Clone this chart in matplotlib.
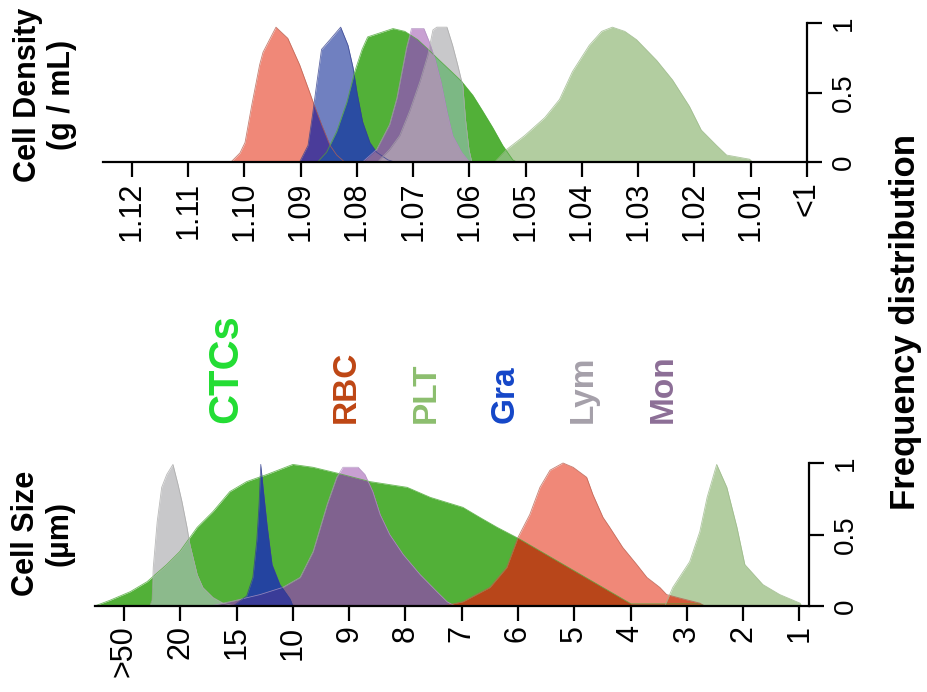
import numpy as np
import matplotlib
matplotlib.use('Agg')
import matplotlib.pyplot as plt

plt.rcParams['font.family'] = ['Liberation Sans', 'DejaVu Sans']

W, H = 928, 692

# ---------------- data ----------------
density_ticks = ['1.12', '1.11', '1.10', '1.09', '1.08', '1.07', '1.06',
                 '1.05', '1.04', '1.03', '1.02', '1.01', '<1']
size_ticks = ['>50', '20', '15', '10', '9', '8', '7', '6', '5', '4', '3', '2', '1']
freq_ticks = [0, 0.5, 1]
freq_labels = ['0', '0.5', '1']

cell_types = ['CTCs', 'RBC', 'PLT', 'Gra', 'Lym', 'Mon']

# Cell density panel (x in category-index units, y = normalised frequency)
dens_rbc_x = [1.76, 1.92, 2.01, 2.13, 2.27, 2.33, 2.56, 2.77, 2.98, 3.16, 3.23, 3.37, 3.52, 3.64, 3.78]
dens_rbc_y = [0, 0.065, 0.14, 0.41, 0.70, 0.79, 0.97, 0.89, 0.70, 0.50, 0.42, 0.27, 0.12, 0.05, 0]

dens_gra_x = [2.98, 3.13, 3.21, 3.29, 3.37, 3.52, 3.71, 3.84, 3.93, 4.00, 4.10, 4.23, 4.35, 4.55, 4.67]
dens_gra_y = [0, 0.12, 0.34, 0.58, 0.81, 0.88, 0.97, 0.84, 0.68, 0.50, 0.29, 0.14, 0.07, 0.015, 0]

dens_ctc_x = [3.30, 3.46, 3.64, 3.82, 3.96, 4.09, 4.19, 4.64, 4.85, 5.08, 5.24, 5.47, 5.68, 5.86,
              6.06, 6.23, 6.41, 6.59, 6.77, 6.84]
dens_ctc_y = [0, 0.07, 0.22, 0.43, 0.65, 0.81, 0.90, 0.96, 0.94, 0.88, 0.82, 0.73, 0.65, 0.58,
              0.48, 0.37, 0.25, 0.12, 0.015, 0]

dens_mon_x = [4.10, 4.35, 4.58, 4.71, 4.80, 4.88, 4.97, 5.19, 5.29, 5.38, 5.49, 5.60, 5.70, 5.86, 6.00]
dens_mon_y = [0, 0.09, 0.27, 0.46, 0.65, 0.82, 0.96, 0.96, 0.86, 0.75, 0.58, 0.36, 0.19, 0.07, 0]

dens_lym_x = [4.37, 4.58, 4.76, 4.94, 5.12, 5.26, 5.35, 5.42, 5.60, 5.70, 5.79, 5.88, 5.93, 5.99, 6.04]
dens_lym_y = [0, 0.09, 0.19, 0.37, 0.58, 0.77, 0.95, 0.97, 0.97, 0.84, 0.70, 0.55, 0.30, 0.09, 0]

dens_plt_x = [6.45, 6.66, 6.98, 7.34, 7.60, 7.83, 8.13, 8.35, 8.54, 8.76, 8.97, 9.33, 9.61, 9.91,
              10.12, 10.39, 10.57, 10.98, 11.03]
dens_plt_y = [0, 0.09, 0.19, 0.32, 0.45, 0.65, 0.84, 0.94, 0.97, 0.94, 0.88, 0.73, 0.59, 0.40,
              0.23, 0.12, 0.05, 0.02, 0]

# Cell size panel
size_lym_x = [0.46, 0.50, 0.52, 0.59, 0.67, 0.76, 0.87, 0.96, 1.03, 1.12, 1.17, 1.30, 1.40, 1.58, 1.76, 1.97]
size_lym_y = [0, 0.04, 0.27, 0.59, 0.83, 0.92, 0.99, 0.85, 0.73, 0.55, 0.43, 0.22, 0.13, 0.06, 0.02, 0]

size_ctc_x = [-0.52, -0.25, 0.11, 0.41, 0.76, 0.99, 1.30, 1.58, 1.88, 2.18, 2.54, 3.00, 3.36, 3.78,
              4.37, 5.03, 5.44, 6.02, 6.32, 6.63, 7.02, 9.01, 10.23, 10.32]
size_ctc_y = [0, 0.04, 0.10, 0.17, 0.29, 0.38, 0.55, 0.66, 0.80, 0.87, 0.92, 0.99, 0.97, 0.93,
              0.87, 0.83, 0.76, 0.69, 0.62, 0.55, 0.47, 0.015, 0.015, 0]

size_gra_x = [1.94, 2.18, 2.29, 2.36, 2.40, 2.43, 2.47, 2.54, 2.63, 2.77, 2.95, 3.00]
size_gra_y = [0, 0.07, 0.20, 0.46, 0.71, 0.99, 0.83, 0.57, 0.29, 0.15, 0.05, 0]

size_mon_x = [1.53, 1.94, 2.42, 2.82, 3.13, 3.36, 3.61, 3.78, 3.89, 4.16, 4.28, 4.42, 4.55, 4.72,
              4.96, 5.26, 5.56, 5.74, 5.88]
size_mon_y = [0, 0.035, 0.08, 0.13, 0.20, 0.38, 0.71, 0.90, 0.97, 0.97, 0.92, 0.80, 0.64, 0.50,
              0.36, 0.22, 0.10, 0.03, 0]

size_rbc_x = [5.67, 6.02, 6.50, 6.80, 7.00, 7.21, 7.39, 7.57, 7.80, 7.98, 8.22, 8.33, 8.51, 8.63,
              8.86, 9.11, 9.29, 9.52, 9.64, 9.88, 10.23, 10.32]
size_rbc_y = [0, 0.03, 0.13, 0.27, 0.48, 0.64, 0.83, 0.95, 1.0, 0.97, 0.90, 0.78, 0.62, 0.55,
              0.41, 0.29, 0.20, 0.13, 0.08, 0.055, 0.02, 0]

size_plt_x = [9.61, 9.64, 9.75, 10.05, 10.23, 10.36, 10.53, 10.71, 10.89, 11.03, 11.35, 11.65, 12.01, 12.04]
size_plt_y = [0, 0.03, 0.13, 0.31, 0.52, 0.76, 0.99, 0.83, 0.55, 0.29, 0.15, 0.08, 0.02, 0]

# ---------------- styles ----------------
alone = {'CTCs': '#52B038', 'RBC': '#F08878', 'PLT': '#B2CDA0',
         'Gra': '#7080C0', 'Lym': '#C8C8CA', 'Mon': '#C8A0D2'}
edge = {'CTCs': '#4AA834', 'RBC': '#B86050', 'PLT': '#9AB888',
        'Gra': '#34408E', 'Lym': '#A8A8A8', 'Mon': '#B090C0'}
label_colors = {'CTCs': '#22DD33', 'RBC': '#BE4614', 'PLT': '#8CBE6E',
                'Gra': '#1446C8', 'Lym': '#A5A0AA', 'Mon': '#8C6E96'}

fig = plt.figure(figsize=(W / 100, H / 100), dpi=100)


def px_axes(x0, x1, ytop, ybot):
    return fig.add_axes([x0 / W, 1 - ybot / H, (x1 - x0) / W, (ybot - ytop) / H])


def draw_panel(ax, series, overlaps, xmin, xmax):
    grid = np.linspace(xmin, xmax, 4000)
    iy = {k: np.interp(grid, xs, ys, left=0, right=0) for k, (xs, ys) in series.items()}
    for k in series:
        ax.fill_between(grid, 0, iy[k], color=alone[k], lw=0, clip_on=False, zorder=1)
    for a, b, c in overlaps:
        ax.fill_between(grid, 0, np.minimum(iy[a], iy[b]), color=c, lw=0, clip_on=False, zorder=1.2)
    for k, (xs, ys) in series.items():
        ax.plot(xs, ys, color=edge[k], lw=0.6, clip_on=False, zorder=1.5, alpha=0.8)


def style_axes(ax, xlim, ticklabels):
    ax.set_xlim(*xlim)
    ax.set_ylim(0, 1)
    for s in ['top', 'left']:
        ax.spines[s].set_visible(False)
    for s in ['bottom', 'right']:
        ax.spines[s].set_linewidth(1.6)
    ax.patch.set_alpha(0)
    ax.set_xticks(range(len(ticklabels)))
    ax.set_xticklabels(ticklabels)
    ax.yaxis.set_ticks_position('right')
    ax.set_yticks(freq_ticks)
    ax.set_yticklabels(freq_labels)
    ax.tick_params(axis='x', direction='out', length=11, width=1.6, pad=3,
                   labelsize=22, labelrotation=90)
    ax.tick_params(axis='y', direction='out', length=11, width=1.6, pad=6,
                   labelsize=20, labelrotation=90)
    for lbl in ax.get_yticklabels():
        lbl.set_va('center')


# ---- top: cell density ----
ax1 = px_axes(103, 807, 23, 162)
dens_series = {
    'RBC': (dens_rbc_x, dens_rbc_y),
    'Gra': (dens_gra_x, dens_gra_y),
    'CTCs': (dens_ctc_x, dens_ctc_y),
    'Mon': (dens_mon_x, dens_mon_y),
    'Lym': (dens_lym_x, dens_lym_y),
    'PLT': (dens_plt_x, dens_plt_y),
}
dens_overlaps = [
    ('RBC', 'Gra', '#4A3C9A'),
    ('Gra', 'CTCs', '#2A4CA2'),
    ('Gra', 'Mon', '#5A3CA0'),
    ('CTCs', 'Lym', '#7CB884'),
    ('CTCs', 'Mon', '#84689A'),
    ('Mon', 'Lym', '#A898AE'),
    ('CTCs', 'PLT', '#84BC74'),
]
draw_panel(ax1, dens_series, dens_overlaps, -0.5, 12)
style_axes(ax1, (-0.515, 12.0), density_ticks)

# ---- bottom: cell size ----
ax2 = px_axes(95, 809, 463, 606)
size_series = {
    'CTCs': (size_ctc_x, size_ctc_y),
    'Lym': (size_lym_x, size_lym_y),
    'Mon': (size_mon_x, size_mon_y),
    'Gra': (size_gra_x, size_gra_y),
    'RBC': (size_rbc_x, size_rbc_y),
    'PLT': (size_plt_x, size_plt_y),
}
size_overlaps = [
    ('CTCs', 'Lym', '#8CBA8C'),
    ('CTCs', 'Mon', '#80628F'),
    ('CTCs', 'Gra', '#2444A0'),
    ('Mon', 'Gra', '#3A3C98'),
    ('CTCs', 'RBC', '#B8461A'),
    ('RBC', 'PLT', '#D65A3A'),
]
draw_panel(ax2, size_series, size_overlaps, -0.6, 12.2)
style_axes(ax2, (-0.515, 12.17), size_ticks)


def ftext(x, y, s, **kw):
    fig.text(x / W, 1 - y / H, s, **kw)


ftext(45, 95, 'Cell Density\n(g / mL)', rotation=90, fontsize=22, fontweight='bold',
      ha='center', va='center', multialignment='center', linespacing=1.15)
ftext(43, 533, 'Cell Size\n(µm)', rotation=90, fontsize=22, fontweight='bold',
      ha='center', va='center', multialignment='center', linespacing=1.15)
ftext(906, 322, 'Frequency distribution', rotation=90, fontsize=25, fontweight='bold',
      ha='center', va='center')

label_x = {'CTCs': 226, 'RBC': 346, 'PLT': 426, 'Gra': 505, 'Lym': 583, 'Mon': 663}
for name in cell_types:
    ftext(label_x[name], 423, name, rotation=90, fontsize=30 if name == 'CTCs' else 24,
          fontweight='bold', color=label_colors[name], ha='center', va='bottom')

fig.savefig('out.png', dpi=100)
